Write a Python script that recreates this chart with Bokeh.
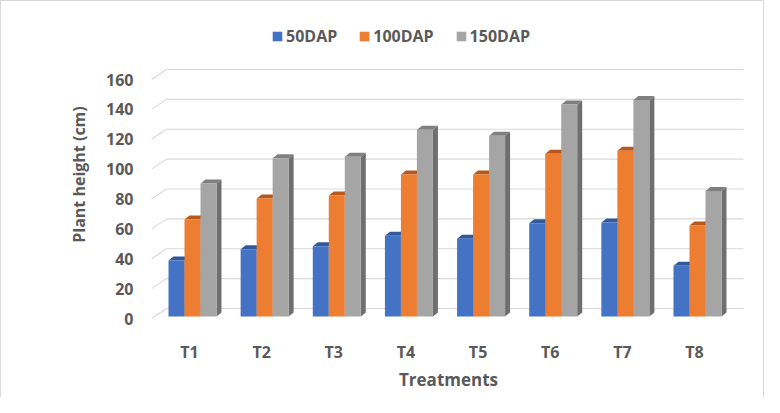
from bokeh.plotting import figure
from bokeh.models import FixedTicker, Legend, LegendItem, Range1d
from bokeh.embed import file_html
from bokeh.resources import INLINE

# ---- data ----
categories = ["T1", "T2", "T3", "T4", "T5", "T6", "T7", "T8"]
series_names = ["50DAP", "100DAP", "150DAP"]
dap50 = [37.5, 45, 47, 54, 52, 62.5, 63, 34]
dap100 = [65, 79, 81, 95, 95, 109, 111, 61]
dap150 = [89, 106, 107, 125, 121, 142, 145, 84]
y_ticks = [0, 20, 40, 60, 80, 100, 120, 140, 160]

series_values = [dap50, dap100, dap150]
front_colors = ["#4472C4", "#ED7D31", "#A5A5A5"]
top_colors = ["#2F5A9E", "#B9581A", "#7F7F7F"]
side_colors = ["#2B4F8C", "#A54E15", "#6F6F6F"]

FONT = "Open Sans"
TXT = "#595959"

# ---- geometry (pixels -> data units) ----
W, H = 764, 397
px_x = 505 / 7.0          # px per category unit
px_y = 239 / 160.0        # px per value unit
x_start = 1 - 38 / px_x
x_end = 8 + 51 / px_x
y_start = -7 / px_y
y_end = 160 + 56 / px_y

bw = 16 / px_x            # bar width
bar_shift = 3 / px_x
bar_base = 2 / px_y
ddx = 5 / px_x            # bar depth
ddy = 4 / px_y
gdx = 15 / px_x           # wall depth
gdy = 10 / px_y
grid_right = 8 + 49 / px_x

p = figure(width=W, height=H, output_backend="svg", toolbar_location=None,
           x_range=Range1d(x_start, x_end), y_range=Range1d(y_start, y_end),
           min_border_left=150, min_border_right=20,
           min_border_top=22, min_border_bottom=73)
p.background_fill_color = "white"
p.border_fill_color = "white"
p.outline_line_color = None
p.xgrid.visible = False
p.ygrid.visible = False
p.styles = {"border-top": "1px solid #d9d9d9", "border-left": "1px solid #d9d9d9",
            "border-right": "1px solid #d9d9d9"}

# gridlines on the back wall with floor-side diagonal
gxs, gys = [], []
for v in y_ticks:
    gxs.append([x_start, x_start + gdx, grid_right])
    gys.append([v, v + gdy, v + gdy])
p.multi_line(gxs, gys, line_color="#d9d9d9", line_width=1.2)

legend_items = []
n = len(categories)
for i, vals in enumerate(series_values):
    lefts = [c + 1 + (i - 1.5) * bw + bar_shift for c in range(n)]
    rights = [l + bw for l in lefts]
    bottoms = [bar_base] * n
    tops = [bar_base + v for v in vals]
    side_xs = [[r, r + ddx, r + ddx, r] for r in rights]
    side_ys = [[b, b + ddy, t + ddy, t] for b, t in zip(bottoms, tops)]
    p.patches(side_xs, side_ys, fill_color=side_colors[i], line_color=None)
    top_xs = [[l, r, r + ddx, l + ddx] for l, r in zip(lefts, rights)]
    top_ys = [[t, t, t + ddy, t + ddy] for t in tops]
    p.patches(top_xs, top_ys, fill_color=top_colors[i], line_color=None)
    fr = p.quad(left=lefts, right=rights, bottom=bottoms, top=tops,
                fill_color=front_colors[i], line_color=None)
    legend_items.append(LegendItem(label=series_names[i], renderers=[fr]))

legend = Legend(items=legend_items, orientation="horizontal", location=(120, 278),
                padding=0, margin=0, spacing=21, label_standoff=3,
                glyph_width=12, glyph_height=12, label_height=20,
                border_line_alpha=0, background_fill_alpha=0,
                label_text_font=FONT, label_text_font_style="bold",
                label_text_font_size="16px", label_text_color=TXT)
p.add_layout(legend, "center")

# axes
p.xaxis.ticker = FixedTicker(ticks=list(range(1, n + 1)))
p.xaxis.major_label_overrides = {i + 1: c for i, c in enumerate(categories)}
p.yaxis.ticker = FixedTicker(ticks=y_ticks)
for ax in (p.xaxis[0], p.yaxis[0]):
    ax.axis_line_color = None
    ax.major_tick_line_color = None
    ax.minor_tick_line_color = None
    ax.major_tick_out = 0
    ax.major_tick_in = 0
    ax.minor_tick_out = 0
    ax.major_label_text_font = FONT
    ax.major_label_text_font_style = "bold"
    ax.major_label_text_font_size = "16px"
    ax.major_label_text_color = TXT
    ax.axis_label_text_font = FONT
    ax.axis_label_text_font_style = "bold"
    ax.axis_label_text_color = TXT
p.xaxis.major_label_standoff = 15
p.yaxis.major_label_standoff = 18
p.xaxis.axis_label = "Treatments"
p.xaxis.axis_label_text_font_size = "17px"
p.xaxis.axis_label_standoff = 2
p.yaxis.axis_label = "Plant height (cm)"
p.yaxis.axis_label_text_font_size = "16px"
p.yaxis.axis_label_standoff = 13

open("out.html", "w").write(file_html(p, INLINE))
